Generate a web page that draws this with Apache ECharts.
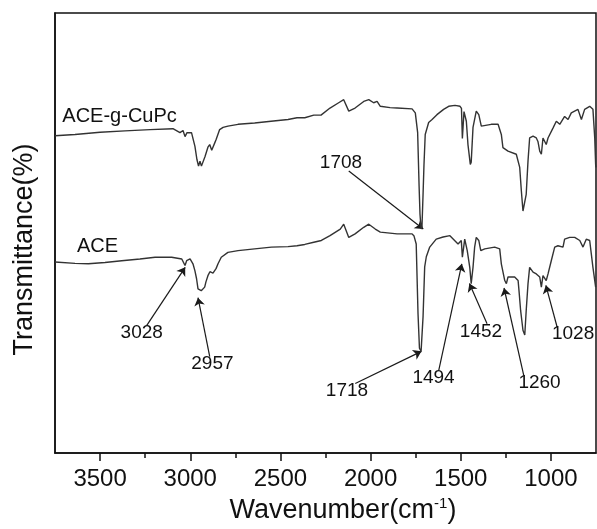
<!DOCTYPE html>
<html>
<head>
<meta charset="utf-8">
<script src="https://cdn.jsdelivr.net/npm/echarts@6/dist/echarts.min.js"></script>
<style>
  html, body { margin: 0; padding: 0; background: #fff; }
  #chart { width: 597px; height: 529px; }
</style>
</head>
<body>
<div id="chart"></div>
<script>
// FTIR spectra: wavenumber (cm-1) and transmittance (arbitrary %, curves offset)
const cupcWavenumber = [
  3750,3639,3500,3362,3223,3096,3057,3040,3029,3018,
  2993,2974,2963,2954,2946,2938,2929,2918,2910,2902,
  2892,2881,2874,2863,2856,2846,2837,2818,2791,2735,
  2643,2552,2458,2408,2365,2315,2275,2225,2177,2149,
  2121,2086,2038,2010,1983,1964,1946,1892,1853,1770,
  1752,1739,1731,1726,1720,1715,1709,1704,1697,1678,
  1659,1632,1595,1567,1532,1504,1496,1491,1486,1482,
  1469,1460,1447,1442,1432,1414,1400,1386,1331,1293,
  1275,1266,1238,1192,1173,1164,1155,1145,1137,1127,
  1118,1099,1081,1072,1062,1053,1044,1026,1016,988,
  970,951,924,905,887,850,831,813,785,767,
  757,752,750
];
const cupcTransmittance = [
  72.1,72.4,72.9,73.2,73.5,73.7,72.8,73.3,71.9,72.8,
  72.8,69.7,66.7,65.2,66.3,65.2,65.4,67.4,67.5,69.5,
  70.1,68.8,69.0,70.6,71.3,71.0,73.5,74.0,74.3,74.7,
  75.0,75.4,75.8,76.2,76.2,76.8,76.8,78.4,79.6,80.3,
  77.7,78.4,79.9,80.3,79.6,79.9,78.8,78.5,78.4,78.2,
  77.3,72.8,60.7,54.3,50.9,51.4,58.8,65.4,72.4,75.1,
  75.8,76.9,78.1,78.8,79.0,78.8,78.3,71.5,71.5,77.6,
  75.4,70.1,65.6,66.1,74.0,77.7,76.9,74.3,74.7,74.7,
  72.4,69.4,68.6,67.9,64.9,59.6,55.0,54.7,58.8,66.4,
  71.6,72.0,71.6,70.8,68.6,67.9,71.6,70.1,71.6,73.9,
  75.4,74.7,76.5,75.8,77.3,78.1,75.8,78.1,78.8,78.1,
  71.6,65.6,64.9
];
const aceWavenumber = [
  3750,3639,3565,3473,3380,3279,3195,3103,3047,3037,
  3029,3020,3001,2985,2974,2965,2957,2949,2939,2929,
  2920,2913,2902,2891,2883,2874,2864,2857,2846,2828,
  2791,2735,2643,2550,2458,2408,2365,2315,2273,2225,
  2168,2149,2121,2086,2038,2010,1974,1946,1853,1770,
  1759,1747,1737,1729,1720,1713,1709,1700,1691,1672,
  1636,1598,1560,1515,1497,1491,1485,1478,1464,1450,
  1442,1432,1423,1414,1400,1389,1367,1312,1284,1275,
  1256,1247,1238,1201,1182,1177,1168,1155,1145,1137,
  1127,1118,1099,1081,1062,1053,1044,1026,1016,998,
  979,961,933,924,896,868,840,822,804,785,
  767,752
];
const aceTransmittance = [
  43.4,43.1,43.0,43.3,43.7,44.1,44.5,44.5,44.1,43.7,
  42.6,43.7,44.1,43.0,41.4,39.6,37.3,36.9,36.9,37.3,
  37.7,38.9,40.3,41.2,41.5,40.9,40.7,41.9,43.0,44.5,
  45.6,46.0,46.4,46.8,46.9,47.1,47.4,47.9,48.3,49.4,
  50.9,52.0,49.0,49.8,51.3,52.0,50.9,50.2,49.8,49.8,
  49.3,47.5,31.7,23.8,23.1,23.5,31.0,42.3,44.6,46.8,
  48.6,49.1,49.4,47.5,48.3,44.5,44.5,48.6,46.0,42.2,
  38.5,42.2,46.8,49.0,48.3,46.0,46.4,46.8,46.4,43.0,
  39.2,38.5,40.0,40.0,39.2,36.9,32.4,27.9,26.8,32.4,
  38.5,42.2,41.1,40.7,40.0,37.7,40.3,39.2,40.7,43.7,
  46.8,47.1,46.8,48.6,49.0,49.0,48.3,46.8,48.6,48.3,
  42.2,37.7
];

// Axis ticks (cm-1)
const majorTicks = [3500, 3000, 2500, 2000, 1500, 1000];
const minorTicks = [3250, 2750, 2250, 1750, 1250];

// Curve names and where they are written [wavenumber, transmittance]
const curveNames = ['ACE-g-CuPc', 'ACE'];
const curveNameAt = [[3392, 76.4], [3514, 47.0]];

// Band assignments: label text (the band position), label anchor, arrow tail, arrow-tip transmittance
const bandLabels = ['1708', '3028', '2957', '1718', '1494', '1452', '1260', '1028'];
const bandLabelAt = [[2164, 65.9], [3269, 27.3], [2877, 20.2], [2131, 14.1],
                     [1651, 17.1], [1388, 27.5], [1063, 15.9], [877, 27.0]];
const bandArrowFrom = [[2121, 64.1], [3241, 29.0], [2892, 21.9], [2085, 15.8],
                       [1622, 18.8], [1354, 29.4], [1151, 17.7], [966, 28.7]];
const bandArrowTipT = [50.9, 42.2, 35.3, 23.1, 43.0, 38.5, 37.5, 38.1];

const zip = (xs, ys) => xs.map((x, i) => [x, ys[i]]);
const FONT = 'Liberation Sans, Arial, sans-serif';
const INK = '#111';

const chart = echarts.init(document.getElementById('chart'), null, { renderer: 'canvas' });

const xBase = { type: 'value', min: 750, max: 3750, inverse: true, gridIndex: 0,
                position: 'bottom', splitLine: { show: false } };

const textLabel = (size) => ({
  show: true, position: 'inside', formatter: '{b}',
  fontSize: size, fontFamily: FONT, color: INK,
  textBorderWidth: 0, textShadowBlur: 0, opacity: 1
});

chart.setOption({
  animation: false,
  backgroundColor: '#fff',
  grid: { left: 55, right: 1, top: 13, bottom: 74, show: true,
          borderColor: INK, borderWidth: 1.5, backgroundColor: 'transparent' },
  xAxis: [
    Object.assign({}, xBase, {
      axisLine: { show: true, onZero: false, lineStyle: { color: INK, width: 1.5 } },
      axisTick: { show: true, customValues: majorTicks, length: 8,
                  lineStyle: { color: INK, width: 1.5 } },
      axisLabel: { show: true, customValues: majorTicks, fontSize: 24, margin: 14,
                   color: INK, fontFamily: FONT, formatter: (v) => String(v) },
      name: '{n|Wavenumber(cm}{s|-1}{n|)}',
      nameLocation: 'middle',
      nameGap: 43,
      nameTextStyle: {
        fontSize: 27, fontFamily: FONT, color: INK, padding: [0, 0, 0, 35],
        rich: {
          n: { fontSize: 27, fontFamily: FONT, color: INK },
          s: { fontSize: 15, fontFamily: FONT, color: INK, padding: [0, 0, 14, 0] }
        }
      }
    }),
    Object.assign({}, xBase, {
      axisLine: { show: false },
      axisTick: { show: true, customValues: minorTicks, length: 5,
                  lineStyle: { color: INK, width: 1.5 } },
      axisLabel: { show: false }
    })
  ],
  yAxis: {
    type: 'value', min: 0, max: 100,
    axisLine: { show: true, onZero: false, lineStyle: { color: INK, width: 1.5 } },
    axisTick: { show: false },
    axisLabel: { show: false },
    splitLine: { show: false },
    name: 'Transmittance(%)',
    nameLocation: 'middle',
    nameRotate: 90,
    nameGap: 17,
    nameTextStyle: { fontSize: 27, fontFamily: FONT, color: INK, padding: [0, 33, 0, 0] }
  },
  series: [
    {
      name: curveNames[0], type: 'line', xAxisIndex: 0,
      data: zip(cupcWavenumber, cupcTransmittance),
      showSymbol: false, symbol: 'none',
      lineStyle: { color: '#333', width: 1.4 }
    },
    {
      name: curveNames[1], type: 'line', xAxisIndex: 0,
      data: zip(aceWavenumber, aceTransmittance),
      showSymbol: false, symbol: 'none',
      lineStyle: { color: '#333', width: 1.4 }
    },
    {
      // arrows pointing from each band label to its band
      type: 'lines', coordinateSystem: 'cartesian2d', xAxisIndex: 0,
      data: bandLabels.map((lab, i) => ({
        coords: [bandArrowFrom[i], [Number(lab), bandArrowTipT[i]]]
      })),
      symbol: ['none', 'arrow'],
      symbolSize: 8,
      lineStyle: { color: '#1a1a1a', width: 1.2, opacity: 1, curveness: 0 },
      z: 3
    },
    {
      type: 'scatter', xAxisIndex: 0, symbolSize: 0,
      itemStyle: { color: INK },
      data: bandLabels.map((lab, i) => ({ name: lab, value: bandLabelAt[i] })),
      label: textLabel(19),
      z: 4
    },
    {
      type: 'scatter', xAxisIndex: 0, symbolSize: 0,
      itemStyle: { color: INK },
      data: curveNames.map((nm, i) => ({ name: nm, value: curveNameAt[i] })),
      label: textLabel(20),
      z: 4
    }
  ]
});
</script>
</body>
</html>
